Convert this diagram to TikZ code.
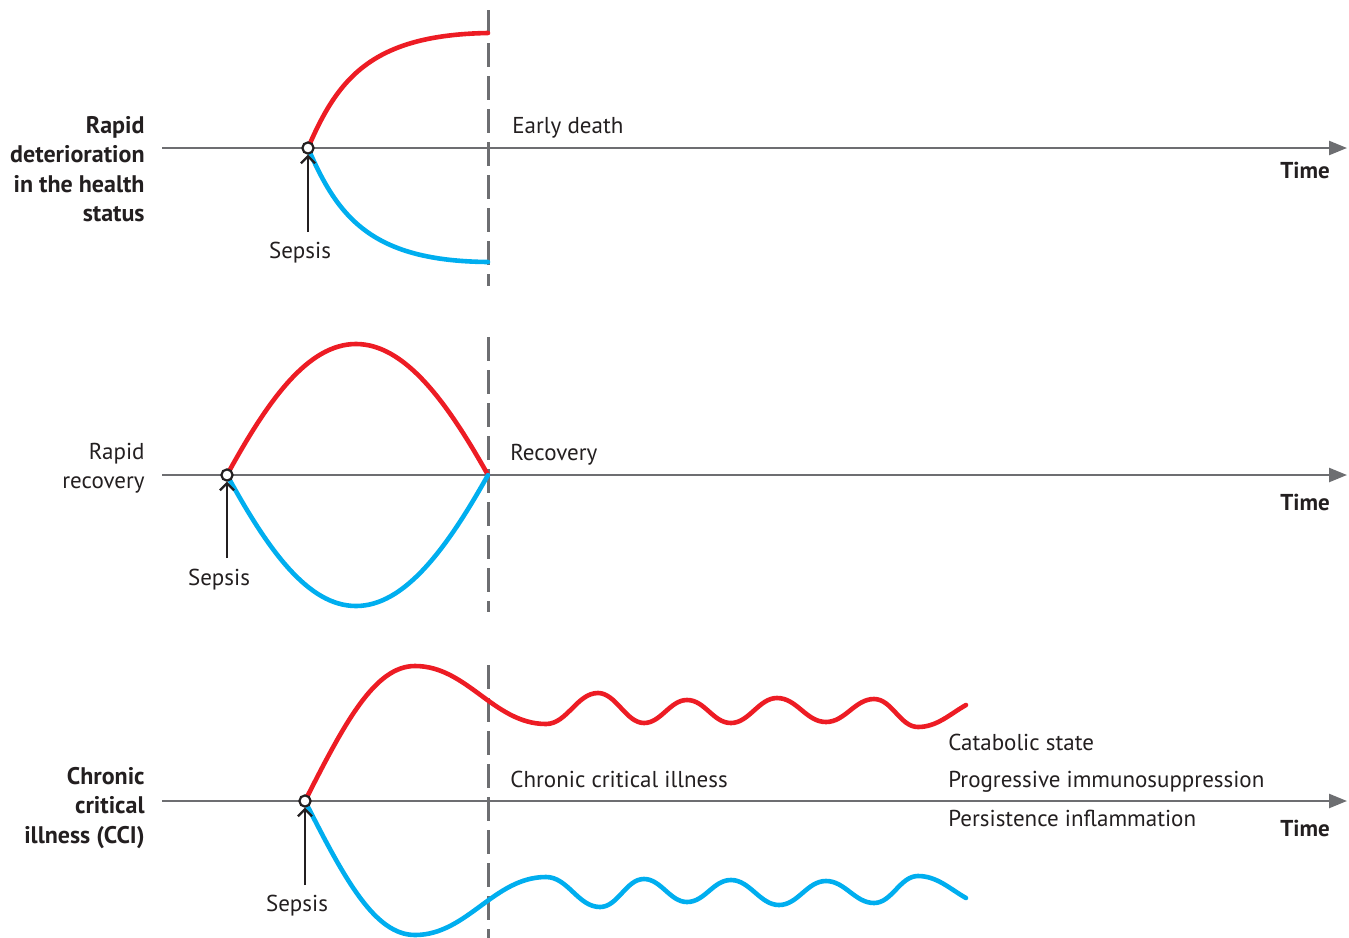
\documentclass[tikz,border=0pt]{standalone}
\usepackage{fontspec}
\setmainfont{PT Sans}
\usetikzlibrary{arrows.meta}
\definecolor{cred}{HTML}{ED1C24}
\definecolor{cblue}{HTML}{00AEEF}
\definecolor{agray}{HTML}{6D6E71}
\definecolor{txt}{HTML}{231F20}
\begin{document}
\begin{tikzpicture}[x=0.5pt,y=-0.5pt,
  every node/.style={text=txt, font=\fontsize{11.5}{14.75}\selectfont},
  axisline/.style={draw=agray, line width=1.2pt, -{Triangle[length=9pt,width=7pt]}},
  divider/.style={draw=agray, line width=1.5pt, dash pattern=on 12pt off 4.5pt},
  redc/.style={draw=cred, line width=2.3pt, line cap=round, line join=round},
  bluec/.style={draw=cblue, line width=2.3pt, line cap=round, line join=round},
  sepsisdot/.style={circle, draw=txt, fill=white, line width=1.1pt, minimum size=5.6pt, inner sep=0pt},
  sepsisarrow/.style={draw=txt, line width=1.1pt, -{Straight Barb[length=3.5pt,width=7pt]}},
  plain/.style={inner sep=0pt},
  rowlabel/.style={align=right, anchor=east, inner sep=0pt},
  boldlabel/.style={font=\fontsize{12}{14.75}\selectfont\bfseries},
  timelabel/.style={inner sep=0pt, anchor=base, font=\fontsize{11.5}{14.75}\selectfont\bfseries}
]
\useasboundingbox (0,0) rectangle (1349,937);

% ---------- coordinates ----------
\coordinate (p1) at (308,148);
\coordinate (p2) at (227,475);
\coordinate (p3) at (305,801);
\coordinate (ax1s) at (162,148); \coordinate (ax1e) at (1347,148);
\coordinate (ax2s) at (162,475); \coordinate (ax2e) at (1347,475);
\coordinate (ax3s) at (162,801); \coordinate (ax3e) at (1347,801);
\coordinate (d1t) at (488,10);  \coordinate (d1b) at (488,286);
\coordinate (d2t) at (488,337); \coordinate (d2b) at (488,612);
\coordinate (d3t) at (488,665); \coordinate (d3b) at (488,940);

% ---------- axes ----------
\draw[axisline] (ax1s) -- (ax1e);
\draw[axisline] (ax2s) -- (ax2e);
\draw[axisline] (ax3s) -- (ax3e);

% ---------- dashed dividers ----------
\draw[divider] (d1t) -- (d1b);
\draw[divider] (d2t) -- (d2b);
\draw[divider] (d3t) -- (d3b);

% ---------- panel 1 curves ----------
\draw[redc] (p1) .. controls (338,78) and (372,35) .. (488,33);
\draw[bluec] (p1) .. controls (338,218) and (372,261) .. (488,262);

% ---------- panel 2 curves ----------
\draw[redc] (p2) .. controls (268,400) and (308,344) .. (356,344)
                 .. controls (404,344) and (446,400) .. (488,475);
\draw[bluec] (p2) .. controls (268,550) and (308,606) .. (356,606)
                  .. controls (404,606) and (446,550) .. (488,475);

% ---------- panel 3 curves ----------
\draw[redc] (p3) .. controls (345,722) and (375,666) .. (415,666)
  .. controls (467,666) and (494,724) .. (546,724)
  .. controls (567,724) and (577,693) .. (598,693)
  .. controls (616,693) and (626,723) .. (644,723)
  .. controls (661,723) and (670,700) .. (687,700)
  .. controls (705,700) and (713,723) .. (731,723)
  .. controls (749,723) and (759,698) .. (777,698)
  .. controls (797,698) and (806,722) .. (826,722)
  .. controls (845,722) and (855,699) .. (874,699)
  .. controls (892,699) and (900,727) .. (918,727)
  .. controls (937,727) and (950,714) .. (966,705);
\draw[bluec] (p3) .. controls (345,880) and (375,935) .. (415,935)
  .. controls (467,935) and (494,877) .. (546,877)
  .. controls (568,877) and (578,907) .. (600,907)
  .. controls (618,907) and (626,879) .. (644,879)
  .. controls (661,879) and (670,902) .. (687,902)
  .. controls (705,902) and (713,880) .. (731,880)
  .. controls (750,880) and (760,905) .. (779,905)
  .. controls (798,905) and (807,881) .. (826,881)
  .. controls (845,881) and (855,903) .. (874,903)
  .. controls (892,903) and (900,876) .. (918,876)
  .. controls (937,876) and (950,889) .. (966,898);

% ---------- sepsis markers ----------
\node[sepsisdot] (s1) at (p1) {};
\node[sepsisdot] (s2) at (p2) {};
\node[sepsisdot] (s3) at (p3) {};
\coordinate (a1) at (308,232);
\coordinate (a2) at (227,558);
\coordinate (a3) at (305,885);
\draw[sepsisarrow] (a1) -- (s1);
\draw[sepsisarrow] (a2) -- (s2);
\draw[sepsisarrow] (a3) -- (s3);
\node[plain, anchor=base] (sl1) at (300,258) {Sepsis};
\node[plain, anchor=base] (sl2) at (219,585) {Sepsis};
\node[plain, anchor=base] (sl3) at (297,911) {Sepsis};

% ---------- row labels ----------
\node[rowlabel, boldlabel] (r1) at (145,169)
  {Rapid\\deterioration\\in the health\\status};
\node[rowlabel] (r2) at (145,468) {Rapid\\recovery};
\node[rowlabel, boldlabel] (r3) at (145,808)
  {Chronic\\critical\\illness (CCI)};

% ---------- outcome labels ----------
\node[plain, anchor=base west] (o1) at (512,133) {Early death};
\node[plain, anchor=base west] (o2) at (510,460) {Recovery};
\node[plain, anchor=base west] (o3) at (510,787) {Chronic critical illness};
\node[plain, anchor=base west] (c1) at (948,750) {Catabolic state};
\node[plain, anchor=base west] (c2) at (948,787) {Progressive immunosuppression};
\node[plain, anchor=base west] (c3) at (948,826) {Persistence inflammation};

% ---------- time labels ----------
\node[timelabel] (t1) at (1305,178) {Time};
\node[timelabel] (t2) at (1305,510) {Time};
\node[timelabel] (t3) at (1305,836) {Time};
\end{tikzpicture}
\end{document}
